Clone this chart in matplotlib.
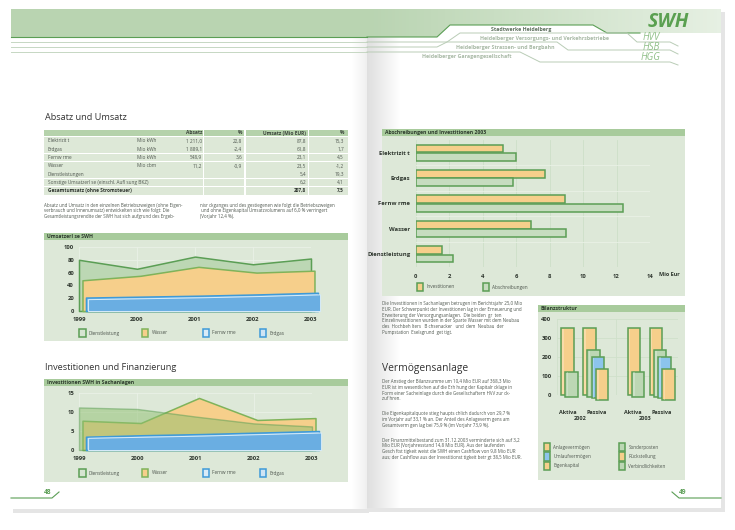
import matplotlib
matplotlib.use('Agg')
import matplotlib.pyplot as plt
from matplotlib.patches import Rectangle, Polygon
import numpy as np

plt.rcParams['font.family'] = ['Open Sans', 'DejaVu Sans']

# ---------------- data ----------------
years = [1999, 2000, 2001, 2002, 2003]
area_names = ['Dienstleistung', 'Wasser', 'Fernw rme', 'Erdgas']
umsatz_dienst = [80, 66, 85, 73, 82]
umsatz_wasser = [48, 55, 69, 60, 63]
umsatz_fernw = [21, 22.5, 24, 26, 28.5]
umsatz_erdgas = [18.5, 20, 21.5, 23.5, 26]
umsatz_yticks = [0, 20, 40, 60, 80, 100]

invest_dienst = [11.2, 10.8, 8.8, 7.0, 6.2]
invest_wasser = [7.7, 7.1, 13.7, 7.9, 8.4]
invest_fernw = [3.5, 3.9, 4.2, 4.6, 5.0]
invest_erdgas = [3.2, 3.5, 3.8, 4.2, 4.6]
invest_yticks = [0, 5, 10, 15]

bar_categories = ['Elektrizit t', 'Erdgas', 'Fernw rme', 'Wasser', 'Dienstleistung']
bar_invest = [5.2, 7.7, 8.9, 6.9, 1.6]
bar_abschr = [6.0, 5.8, 12.4, 9.0, 2.25]
bar_xticks = [0, 2, 4, 6, 8, 10, 12, 14]

bilanz_years = ['2002', '2003']
bilanz_aktiva = [[351, 132], [351, 132]]
bilanz_passiva = [[351, 246, 216, 164], [351, 246, 220, 164]]
bilanz_yticks = [0, 100, 200, 300, 400]
bilanz_legend = ['Anlagevermögen', 'Umlaufvermögen', 'Eigenkapital',
                 'Sonderposten', 'Rückstellung', 'Verbindlichkeiten']

table_header = ['Absatz', '%', 'Umsatz (Mio EUR)', '%']
table_labels = ['Elektrizit t', 'Erdgas', 'Fernw rme', 'Wasser', 'Dienstleistungen',
                'Sonstige Umsatzerl se (einschl. Aufl sung BKZ)', 'Gesamtumsatz (ohne Stromsteuer)']
table_units = ['Mio kWh', 'Mio kWh', 'Mio kWh', 'Mio cbm', '', '', '']
table_absatz = ['1 211,0', '1 889,1', '548,9', '11,2', '', '', '']
table_absatz_pct = ['22,8', '-2,4', '3,6', '-0,9', '', '', '']
table_umsatz = ['87,8', '61,8', '23,1', '23,5', '5,4', '6,2', '207,8']
table_umsatz_pct = ['15,3', '1,7', '4,5', '-1,2', '19,3', '4,1', '7,5']

# ---------------- colours ----------------
GREEN_BAND = '#b9d4b1'
DARK_GREEN = '#5b9e55'
TITLE_GREEN = '#a8cb9c'
PANEL = '#dde8d8'
ORANGE = '#f6cf8b'
LGREEN = '#bcd7b4'
BLUE_L = '#8cc4ec'
BLUE = '#6aaee2'
BLUE_EDGE = '#3e9ad8'
TXT = '#505850'
TICK = '#2e362e'

W, H = 735, 530
fig = plt.figure(figsize=(7.35, 5.3), dpi=100)
fig.patch.set_facecolor('white')
bg = fig.add_axes([0, 0, 1, 1])
bg.set_xlim(0, W)
bg.set_ylim(H, 0)
bg.axis('off')


def pax(x0, y0, x1, y1):
    a = fig.add_axes([x0 / W, 1 - y1 / H, (x1 - x0) / W, (y1 - y0) / H])
    a.set_facecolor('none')
    for s in a.spines.values():
        s.set_visible(False)
    return a


def box(x0, y0, x1, y1, **kw):
    p = Rectangle((x0, y0), x1 - x0, y1 - y0, **kw)
    bg.add_patch(p)
    return p


def line(pts, **kw):
    xs, ys = zip(*pts)
    bg.plot(xs, ys, **kw)


def hgrad(n, grey, a0, a1):
    alpha = np.linspace(a0, a1, n)
    arr = np.zeros((1, n, 4))
    arr[..., :3] = grey
    arr[..., 3] = alpha
    return arr


# ---------------- pages ----------------
box(13, 12, 369, 513, facecolor='#000000', alpha=0.10, edgecolor='none')
box(369, 12, 725, 512, facecolor='#000000', alpha=0.10, edgecolor='none')
box(11, 9, 367, 509, facecolor='white', edgecolor='none')
box(367, 9, 721, 508, facecolor='white', edgecolor='none')
# gutter shading
bg.imshow(hgrad(60, 0.86, 0.9, 0.0), extent=(367, 400, 508, 9), aspect='auto', zorder=1)
bg.imshow(hgrad(30, 0.88, 0.0, 0.5), extent=(352, 367, 509, 9), aspect='auto', zorder=1)
bg.set_xlim(0, W)
bg.set_ylim(H, 0)

# ---------------- headers ----------------
box(11, 9, 367, 37, facecolor=GREEN_BAND, edgecolor='none', zorder=2)
line([(11, 37), (367, 37)], color=DARK_GREEN, lw=0.8, zorder=3)
for yy in (42, 47, 52):
    line([(11, yy), (367, yy)], color='#c6d7c3', lw=0.7, zorder=3)

hdr = Polygon([(367, 9), (721, 9), (721, 33), (607, 33), (593, 25), (450, 25), (437, 37), (367, 37)],
              closed=True, facecolor='none', edgecolor='none')
bg.add_patch(hdr)
g2 = np.linspace(0, 1, 100)
c0 = np.array([0xb9, 0xd4, 0xb1]) / 255
c1 = np.array([0xe6, 0xf0, 0xe3]) / 255
img = (c0[None, None, :] * (1 - g2)[None, :, None] + c1[None, None, :] * g2[None, :, None])
im = bg.imshow(img, extent=(367, 721, 37, 9), aspect='auto', zorder=2)
im.set_clip_path(hdr)
bg.set_xlim(0, W)
bg.set_ylim(H, 0)

line([(367, 37), (437, 37), (450, 25), (593, 25), (607, 33), (640, 33)], color=DARK_GREEN, lw=0.8, zorder=3)
line([(367, 42), (447, 42), (460, 33), (627, 33), (637, 42), (670, 42), (678, 46)], color='#b9ccb6', lw=0.7, zorder=3)
line([(367, 47), (437, 47), (447, 42), (557, 42), (568, 50), (670, 50), (678, 54)], color='#b9ccb6', lw=0.7, zorder=3)
line([(367, 52), (520, 52), (540, 62), (670, 62), (678, 65)], color='#b9ccb6', lw=0.7, zorder=3)

bg.text(521, 29.5, 'Stadtwerke Heidelberg', fontsize=3.8, weight='bold', color='#5d6f5d', ha='center', va='center', zorder=4)
bg.text(545, 38.5, 'Heidelberger Versorgungs- und Verkehrsbetriebe', fontsize=3.8, weight='bold', color='#a8b9a5', ha='center', va='center', zorder=4)
bg.text(505, 47, 'Heidelberger Strassen- und Bergbahn', fontsize=3.8, weight='bold', color='#a8b9a5', ha='center', va='center', zorder=4)
bg.text(467, 56.5, 'Heidelberger Garagengesellschaft', fontsize=3.8, weight='bold', color='#a8b9a5', ha='center', va='center', zorder=4)
bg.text(668, 22, 'SWH', fontsize=14, weight='bold', style='italic', color='#5aa050', ha='center', va='center', zorder=4)
for lab, yy in (('HVV', 38), ('HSB', 47.5), ('HGG', 57)):
    bg.text(651, yy, lab, fontsize=7, style='italic', color='#8fbf88', ha='center', va='center', zorder=4)

# ---------------- page numbers ----------------
line([(11, 498), (52, 498), (59, 492)], color=DARK_GREEN, lw=0.8, zorder=3)
bg.text(48, 493, '48', fontsize=4.8, weight='bold', color=DARK_GREEN, ha='center', va='center')
line([(672, 492), (679, 498), (721, 498)], color=DARK_GREEN, lw=0.8, zorder=3)
bg.text(683, 493, '49', fontsize=4.8, weight='bold', color=DARK_GREEN, ha='center', va='center')

# ---------------- headings ----------------
bg.text(45, 117, 'Absatz und Umsatz', fontsize=6.6, color='#333333', va='center')
bg.text(45, 368, 'Investitionen und Finanzierung', fontsize=6.6, color='#333333', va='center')
bg.text(382, 368, 'Vermögensanlage', fontsize=7.4, color='#333333', va='center')

# ---------------- table ----------------
cols = [(44, 203), (204.5, 244.5), (246, 308), (309.5, 348)]
for (a, b) in cols:
    box(a, 129.5, b, 136.3, facecolor='#b5d2ab', edgecolor='none', zorder=2)
hx = [202, 242, 306, 344]
for t, x in zip(table_header, hx):
    bg.text(x, 133, t, fontsize=3.5, weight='bold', color='#3a443a', ha='right', va='center', zorder=3)
rh = 8.33
for i in range(len(table_labels)):
    top = 137 + i * rh
    for (a, b) in cols:
        box(a, top, b, top + rh - 0.8, facecolor='#dde8d7', edgecolor='none', zorder=2)
    yc = top + (rh - 0.8) / 2
    bold = i == len(table_labels) - 1
    kw = dict(fontsize=3.4, color='#2c332c' if bold else TXT, va='center', zorder=3,
              weight='bold' if bold else 'normal')
    bg.text(48, yc, table_labels[i], **kw)
    bg.text(137, yc, table_units[i], **kw)
    bg.text(202, yc, table_absatz[i], ha='right', **kw)
    bg.text(242, yc, table_absatz_pct[i], ha='right', **kw)
    bg.text(306, yc, table_umsatz[i], ha='right', **kw)
    bg.text(344, yc, table_umsatz_pct[i], ha='right', **kw)

# ---------------- paragraphs ----------------
ptxt = dict(fontsize=3.25, color=TXT, va='center')
left_par = ['Absatz und Umsatz in den einzelnen Betriebszweigen (ohne Eigen-',
            'verbrauch und Innenumsatz) entwickelten sich wie folgt: Die',
            'Gesamtleistungsrendite der SWH hat sich aufgrund des Ergeb-']
right_par = ['nisr ckganges und des gestiegenen wie folgt die Betriebszweigen',
             ' und ohne Eigenkapital Umsatzvolumens auf 6,0 % verringert',
             '(Vorjahr 12,4 %).']
for i, t in enumerate(left_par):
    bg.text(44, 205 + i * 5.7, t, **ptxt)
for i, t in enumerate(right_par):
    bg.text(200, 205 + i * 5.7, t, **ptxt)

rp1 = ['Die Investitionen in Sachanlagen betrugen im Berichtsjahr 25,0 Mio',
       'EUR. Der Schwerpunkt der Investitionen lag in der Erneuerung und',
       'Erweiterung der Versorgungsanlagen.  Die beiden  gr  ten',
       'Einzelinvestitionen wurden in der Sparte Wasser mit dem Neubau',
       'des  Hochbeh lters   B chsenacker   und  dem  Neubau  der',
       'Pumpstation  Eselsgrund  get tigt.']
for i, t in enumerate(rp1):
    bg.text(382, 303.5 + i * 5.8, t, **ptxt)
rp2 = ['Der Anstieg der Bilanzsumme um 10,4 Mio EUR auf 368,3 Mio',
       'EUR ist im wesentlichen auf die Erh hung der Kapitalr cklage in',
       'Form einer Sacheinlage durch die Gesellschaftern HVV zur ck-',
       'zuf hren.']
for i, t in enumerate(rp2):
    bg.text(382, 381 + i * 6, t, **ptxt)
rp3 = ['Die Eigenkapitalquote stieg haupts chlich dadurch von 29,7 %',
       'im Vorjahr auf 33,1 % an. Der Anteil des Anlageverm gens am',
       'Gesamtverm gen lag bei 75,9 % (im Vorjahr 73,9 %).']
for i, t in enumerate(rp3):
    bg.text(382, 413 + i * 6, t, **ptxt)
rp4 = ['Der Finanzmittelbestand zum 31.12.2003 verminderte sich auf 3,2',
       'Mio EUR (Vorjahresstand 14,8 Mio EUR). Aus der laufenden',
       'Gesch ftst tigkeit weist die SWH einen Cashflow von 9,8 Mio EUR',
       'aus; der Cashflow aus der Investitionst tigkeit betr gt 38,5 Mio EUR.']
for i, t in enumerate(rp4):
    bg.text(382, 440 + i * 6, t, **ptxt)


# ---------------- chart helpers ----------------
def panel(x0, y0, x1, y1, title, th=7):
    box(x0, y0, x1, y1, facecolor=PANEL, edgecolor='none', zorder=2)
    box(x0, y0, x1, y0 + th, facecolor=TITLE_GREEN, edgecolor='none', zorder=2)
    bg.text(x0 + 3, y0 + th / 2, title, fontsize=3.7, weight='bold', color='#2c3a2c', va='center', zorder=3)


def legend_item(x, y, edge, face, label, fs=3.4):
    box(x - 3.2, y - 4.2, x + 3.2, y + 4.2, facecolor=face, edgecolor=edge, lw=1.1, zorder=3)
    bg.text(x + 6.5, y, label, fontsize=fs, color=TXT, va='center', zorder=3)


def style_axes(ax, pad_x=4, pad_y=3.5):
    ax.tick_params(length=0, labelsize=4.2, colors=TICK, pad=pad_x)
    ax.tick_params(axis='y', pad=pad_y)
    for lab in ax.get_xticklabels() + ax.get_yticklabels():
        lab.set_fontweight('bold')


DX = 0.06  # depth offset (years)

# ---------------- chart 1: Umsatzerlöse ----------------
panel(44, 233, 348, 341, 'Umsatzerl se SWH')
ax1 = pax(79, 247, 311, 311)
ax1.set_zorder(5)
ax1.set_xlim(1999, 2003)
ax1.set_ylim(0, 100)
ax1.set_xticks(years)
ax1.set_yticks(umsatz_yticks)
ax1.grid(color='#eaf1e7', lw=0.6)
ax1.set_axisbelow(True)
yrs = np.array(years, dtype=float)
ax1.fill_between(yrs, 0, umsatz_dienst, facecolor=LGREEN, edgecolor=DARK_GREEN, lw=1.1, clip_on=False, zorder=2)
ax1.fill_between(yrs + DX, 0, umsatz_wasser, facecolor=ORANGE, edgecolor='#7fb35a', lw=1.1, clip_on=False, zorder=3)
ax1.fill_between(yrs + 2 * DX, 0, umsatz_fernw, facecolor=BLUE_L, edgecolor=BLUE_EDGE, lw=1.1, clip_on=False, zorder=4)
ax1.fill_between(yrs + 2.6 * DX, 0, umsatz_erdgas, facecolor=BLUE, edgecolor='#d8ecf8', lw=0.7, clip_on=False, zorder=5)
style_axes(ax1)
legend_item(82.5, 333, DARK_GREEN, '#d6e5d1', area_names[0])
legend_item(145, 333, '#7fb35a', ORANGE, area_names[1])
legend_item(206, 333, BLUE_EDGE, '#d9ebf7', area_names[2])
legend_item(263, 333, BLUE_EDGE, '#cfe4f4', area_names[3])

# ---------------- chart 2: Investitionen ----------------
panel(44, 379, 348, 482, 'Investitionen SWH in Sachanlagen')
ax2 = pax(79, 393, 312, 450)
ax2.set_zorder(5)
ax2.set_xlim(1999, 2003)
ax2.set_ylim(0, 15)
ax2.set_xticks(years)
ax2.set_yticks(invest_yticks)
ax2.grid(color='#eaf1e7', lw=0.6)
ax2.set_axisbelow(True)
ax2.fill_between(yrs + DX, 0, invest_wasser, facecolor=ORANGE, edgecolor='#7fb35a', lw=1.1, clip_on=False, zorder=2)
ax2.fill_between(yrs, 0, invest_dienst, facecolor='#8fbf6f', edgecolor=DARK_GREEN, lw=1.0, alpha=0.5, clip_on=False, zorder=3)
ax2.fill_between(yrs + 2 * DX, 0, invest_fernw, facecolor=BLUE_L, edgecolor=BLUE_EDGE, lw=1.1, clip_on=False, zorder=4)
ax2.fill_between(yrs + 2.6 * DX, 0, invest_erdgas, facecolor=BLUE, edgecolor='#d8ecf8', lw=0.7, clip_on=False, zorder=5)
style_axes(ax2)
legend_item(82.5, 473, DARK_GREEN, '#d6e5d1', area_names[0])
legend_item(145, 473, '#7fb35a', ORANGE, area_names[1])
legend_item(206, 473, BLUE_EDGE, '#d9ebf7', area_names[2])
legend_item(263, 473, BLUE_EDGE, '#cfe4f4', area_names[3])

# ---------------- chart 3: Abschreibungen und Investitionen ----------------
panel(382, 129, 685, 296, 'Abschreibungen und Investitionen 2003', th=6.5)
ax3 = pax(415.7, 140, 650, 267)
ax3.set_zorder(5)
ypos = np.arange(len(bar_categories))
ax3.barh(ypos - 0.165, bar_invest, height=0.3, color=ORANGE, edgecolor=DARK_GREEN, lw=1.1, zorder=3)
ax3.barh(ypos + 0.165, bar_abschr, height=0.3, color='#c6dcbf', edgecolor=DARK_GREEN, lw=1.1, zorder=3)
ax3.set_xlim(0, 14)
ax3.set_ylim(len(bar_categories) - 0.5, -0.5)
ax3.set_xticks(bar_xticks)
ax3.set_yticks(ypos)
ax3.set_yticklabels(bar_categories)
ax3.grid(axis='x', color='#cddfc8', lw=0.6)
for yy in ypos[:-1] + 0.5:
    ax3.axhline(yy, color='#e9f1e6', lw=0.6, zorder=1)
ax3.set_axisbelow(True)
style_axes(ax3, pad_x=5, pad_y=4)
bg.text(659, 274.5, 'Mio Eur', fontsize=4.0, weight='bold', color=TICK, va='center', zorder=3)
legend_item(420, 287, DARK_GREEN, ORANGE, 'Investitionen')
legend_item(486, 287, DARK_GREEN, '#c6dcbf', 'Abschreibungen')

# ---------------- chart 4: Bilanzstruktur ----------------
panel(538, 305, 685, 480, 'Bilanzstruktur', th=7)
ax4 = pax(557, 319, 678, 395)
ax4.set_zorder(5)
ax4.set_xlim(0, 121)
ax4.set_ylim(0, 400)
ax4.set_yticks(bilanz_yticks)
ax4.set_xticks([])
ax4.grid(axis='y', color='#cfe0ca', lw=0.6)
for xv in (0, 59, 121):
    ax4.axvline(xv, color='#cfe0ca', lw=0.6, zorder=1)
ax4.set_axisbelow(True)
style_axes(ax4, pad_y=4)
akt_cols = [ORANGE, LGREEN]
pas_cols = [ORANGE, LGREEN, BLUE_L, ORANGE]
group_left = [4, 26, 70.5, 92.5]
bw, ddx, ddy = 12.5, 4.3, 9
for gi, yr in enumerate(bilanz_years):
    for g, vals, cl in ((group_left[2 * gi], bilanz_aktiva[gi], akt_cols),
                        (group_left[2 * gi + 1], bilanz_passiva[gi], pas_cols)):
        for k, (v, c) in enumerate(zip(vals, cl)):
            ax4.add_patch(Rectangle((g + k * ddx, -k * ddy), bw, v, facecolor=c,
                                    edgecolor=DARK_GREEN, lw=1.1, clip_on=False, zorder=3 + k))
            ax4.add_patch(Rectangle((g + k * ddx + 1.2, -k * ddy + 3), 1.6, v - 6, facecolor='white',
                                    alpha=0.25, edgecolor='none', clip_on=False, zorder=3 + k))
for x, t in ((568, 'Aktiva'), (597, 'Passiva'), (633, 'Aktiva'), (662, 'Passiva')):
    bg.text(x, 412, t, fontsize=4.0, weight='bold', color=TICK, ha='center', va='center', zorder=3)
bg.text(580, 418.5, bilanz_years[0], fontsize=4.0, weight='bold', color=TICK, ha='center', va='center', zorder=3)
bg.text(645, 418.5, bilanz_years[1], fontsize=4.0, weight='bold', color=TICK, ha='center', va='center', zorder=3)
leg_faces = [ORANGE, BLUE_L, ORANGE, LGREEN, ORANGE, LGREEN]
for i, (lab, fc) in enumerate(zip(bilanz_legend, leg_faces)):
    cx = 547 if i < 3 else 622
    cy = 447 + (i % 3) * 9.5
    legend_item(cx, cy, DARK_GREEN, fc, lab, fs=3.3)

fig.savefig('out.png', dpi=100)
